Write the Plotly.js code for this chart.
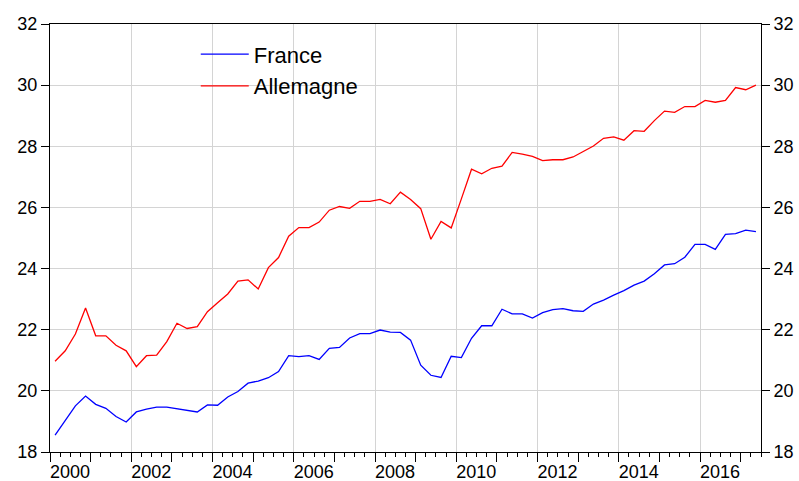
<!DOCTYPE html>
<html>
<head>
<meta charset="utf-8">
<script src="https://cdn.plot.ly/plotly-3.0.1.min.js"></script>
<style>html,body{margin:0;padding:0;background:#fff;}#chart{width:799px;height:481px;}</style>
</head>
<body>
<div id="chart"></div>
<script>
var periods = [
 "2000Q1","2000Q2","2000Q3","2000Q4","2001Q1","2001Q2","2001Q3","2001Q4",
 "2002Q1","2002Q2","2002Q3","2002Q4","2003Q1","2003Q2","2003Q3","2003Q4",
 "2004Q1","2004Q2","2004Q3","2004Q4","2005Q1","2005Q2","2005Q3","2005Q4",
 "2006Q1","2006Q2","2006Q3","2006Q4","2007Q1","2007Q2","2007Q3","2007Q4",
 "2008Q1","2008Q2","2008Q3","2008Q4","2009Q1","2009Q2","2009Q3","2009Q4",
 "2010Q1","2010Q2","2010Q3","2010Q4","2011Q1","2011Q2","2011Q3","2011Q4",
 "2012Q1","2012Q2","2012Q3","2012Q4","2013Q1","2013Q2","2013Q3","2013Q4",
 "2014Q1","2014Q2","2014Q3","2014Q4","2015Q1","2015Q2","2015Q3","2015Q4",
 "2016Q1","2016Q2","2016Q3","2016Q4","2017Q1","2017Q2"
];
var france = [
 18.55,19.05,19.51,19.83,19.56,19.43,19.16,18.98,
 19.31,19.40,19.47,19.47,19.42,19.37,19.31,19.54,
 19.53,19.80,19.98,20.25,20.32,20.43,20.63,21.15,
 21.12,21.15,21.03,21.39,21.42,21.73,21.87,21.87,
 21.99,21.92,21.91,21.66,20.84,20.51,20.44,21.13,
 21.09,21.72,22.13,22.13,22.67,22.52,22.52,22.38,
 22.56,22.66,22.69,22.62,22.60,22.84,22.97,23.13,
 23.28,23.46,23.59,23.83,24.12,24.16,24.37,24.79,
 24.79,24.63,25.12,25.14,25.26,25.21
];
var allemagne = [
 20.97,21.31,21.86,22.71,21.80,21.80,21.49,21.31,
 20.79,21.15,21.17,21.61,22.21,22.04,22.10,22.59,
 22.88,23.17,23.59,23.63,23.33,24.03,24.36,25.06,
 25.34,25.34,25.52,25.91,26.03,25.97,26.20,26.20,
 26.26,26.12,26.50,26.26,25.96,24.96,25.54,25.33,
 26.28,27.25,27.10,27.28,27.35,27.80,27.74,27.67,
 27.53,27.56,27.56,27.65,27.83,28.01,28.26,28.31,
 28.20,28.51,28.49,28.84,29.15,29.11,29.30,29.30,
 29.50,29.44,29.50,29.92,29.85,30.00
];
var yearTicks = [2000,2001,2002,2003,2004,2005,2006,2007,2008,2009,2010,2011,2012,2013,2014,2015,2016,2017];
var yearLabels = ["2000","","2002","","2004","","2006","","2008","","2010","","2012","","2014","","2016",""];
var gridYears = [2002,2004,2006,2008,2010,2012,2014,2016];
var yTicks = [18,20,22,24,26,28,30,32];

// quarter label -> continuous time at mid-quarter
function toTime(p){ var y = parseInt(p.slice(0,4),10), q = parseInt(p.slice(5),10); return y + (q-1)/4 + 0.125; }
var xt = periods.map(toTime);

var font = "Liberation Sans, Arial, sans-serif";
var traces = [
 {x: xt, y: france, name: "France", type: "scatter", mode: "lines",
  line: {color: "#0000ff", width: 1.3}, xaxis: "x", yaxis: "y"},
 {x: xt, y: allemagne, name: "Allemagne", type: "scatter", mode: "lines",
  line: {color: "#ff0000", width: 1.3}, xaxis: "x2", yaxis: "y2"}
];
var xr = [2000, 2017.5];
var layout = {
 width: 799, height: 481,
 margin: {l: 50, r: 38, t: 24, b: 29},
 paper_bgcolor: "#ffffff", plot_bgcolor: "#ffffff",
 font: {family: font, size: 18, color: "#000"},
 showlegend: true,
 legend: {x: 0.205, y: 0.978, xanchor: "left", yanchor: "top",
   bgcolor: "rgba(0,0,0,0)", borderwidth: 0, font: {size: 22, family: font},
   itemwidth: 48, tracegroupgap: 0},
 xaxis: {range: xr, tickmode: "array", tickvals: yearTicks, ticktext: yearLabels,
   ticks: "outside", ticklen: 9, tickwidth: 1, tickcolor: "#000",
   ticklabelshift: 20, ticklabelstandoff: -6, showgrid: false, zeroline: false,
   showline: true, linecolor: "#000", linewidth: 1, mirror: true,
   tickfont: {size: 18, family: font},
   minor: {tick0: 2000, dtick: 0.25, ticks: "outside", ticklen: 4, tickwidth: 1, tickcolor: "#000", showgrid: false}},
 xaxis2: {range: xr, overlaying: "x", side: "bottom", tickmode: "array", tickvals: gridYears,
   showticklabels: false, ticks: "", showgrid: true, gridcolor: "#d4d4d4", gridwidth: 1,
   zeroline: false, showline: false},
 yaxis: {range: [18, 32], tickmode: "array", tickvals: yTicks,
   ticks: "outside", ticklen: 8, tickcolor: "#000", tickwidth: 1,
   showgrid: true, gridcolor: "#d4d4d4", gridwidth: 1, zeroline: false,
   showline: true, linecolor: "#000", linewidth: 1,
   tickfont: {size: 18, family: font}},
 yaxis2: {range: [18, 32], overlaying: "y", side: "right", tickmode: "array", tickvals: yTicks,
   ticks: "outside", ticklen: 8, tickcolor: "#000", tickwidth: 1,
   showgrid: false, zeroline: false, showline: true, linecolor: "#000", linewidth: 1,
   tickfont: {size: 18, family: font}}
};
Plotly.newPlot("chart", traces, layout, {staticPlot: true, displayModeBar: false});
</script>
</body>
</html>
